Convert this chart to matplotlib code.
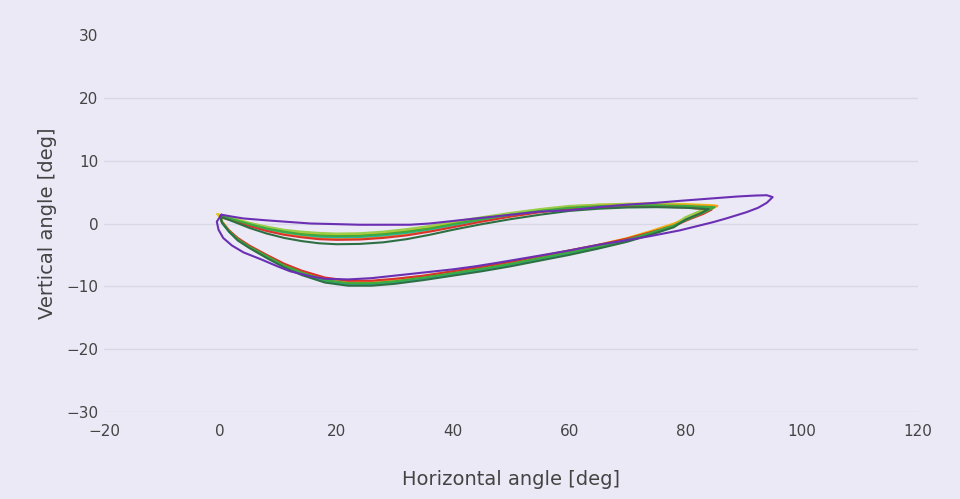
import matplotlib
matplotlib.use("Agg")
import matplotlib.pyplot as plt

# ---- data ----
# each loop: outbound (upper) branch followed by the return (lower) branch
purple_x = [0.2, 2, 4, 8, 11, 15.5, 20, 24, 28, 32.6, 36, 40, 45, 50, 55, 60, 65, 70, 75, 79, 84.7, 89, 92, 94, 95,
            94, 92.5, 90.5, 87, 84.7, 79, 74, 69, 65, 60, 55, 48, 44, 40, 35, 31, 26, 22, 18, 15.5, 12, 9.8, 7, 4, 2, 0.5, -0.3, -0.6, 0.2]
purple_y = [1.4, 1.1, 0.8, 0.5, 0.3, 0.0, -0.1, -0.2, -0.2, -0.2, 0.0, 0.4, 0.9, 1.4, 1.9, 2.1, 2.6, 3.0, 3.3, 3.6, 4.0, 4.3, 4.45, 4.5, 4.2,
            3.3, 2.5, 1.8, 0.8, 0.2, -1.1, -2.0, -2.8, -3.4, -4.3, -5.1, -6.2, -6.8, -7.3, -7.8, -8.2, -8.7, -8.9, -8.8, -8.4, -7.6, -6.8, -5.7, -4.6, -3.5, -2.3, -1.0, 0.3, 1.4]

green_x = [0, 2, 5, 8, 11, 14, 17, 20, 24, 28, 32, 36, 40, 45, 50, 55, 60, 65, 70, 75, 80, 85,
           83.5, 81, 78, 74, 70, 65, 60, 55, 50, 45, 40, 35, 30, 26, 22, 18, 14, 11, 8, 5, 3, 1.5, 0.3, 0]
green_y = [1.2, 0.7, -0.1, -0.8, -1.3, -1.7, -1.9, -2.0, -1.95, -1.7, -1.3, -0.8, -0.1, 0.7, 1.4, 2.0, 2.5, 2.75, 2.9, 2.9, 2.8, 2.6,
           1.9, 0.9, -0.3, -1.5, -2.6, -3.7, -4.6, -5.5, -6.4, -7.2, -7.9, -8.6, -9.2, -9.5, -9.5, -9.0, -7.8, -6.7, -5.2, -3.7, -2.5, -1.2, 0.2, 1.2]

darkgreen_x = [0, 2, 5, 8, 11, 14, 17, 20, 24, 28, 32, 36, 40, 45, 50, 55, 60, 65, 70, 75, 80, 84,
               82.5, 80, 78, 74, 70, 65, 60, 55, 50, 45, 40, 35, 30, 26, 22, 18, 14, 11, 8, 5, 3, 1.5, 0.3, 0]
darkgreen_y = [1.1, 0.4, -0.7, -1.6, -2.3, -2.8, -3.15, -3.3, -3.25, -3.0, -2.5, -1.8, -1.0, -0.1, 0.7, 1.4, 2.0, 2.35, 2.55, 2.6, 2.5, 2.3,
               1.6, 0.6, -0.6, -1.8, -2.9, -4.0, -5.0, -5.9, -6.8, -7.6, -8.3, -9.0, -9.6, -9.9, -9.9, -9.4, -8.2, -7.0, -5.5, -3.9, -2.7, -1.3, 0.1, 1.1]

red_x = [0, 2, 5, 8, 11, 14, 17, 20, 24, 28, 32, 36, 40, 45, 50, 55, 60, 65, 70, 75, 80, 84.5,
         83, 80.5, 78, 74, 70, 65, 60, 55, 50, 45, 40, 35, 30, 26, 22, 18, 14, 11, 8, 5, 3, 1.5, 0.3, 0]
red_y = [1.0, 0.5, -0.4, -1.2, -1.8, -2.2, -2.5, -2.6, -2.55, -2.3, -1.9, -1.3, -0.6, 0.3, 1.1, 1.8, 2.3, 2.55, 2.7, 2.7, 2.55, 2.2,
         1.5, 0.6, -0.4, -1.4, -2.4, -3.4, -4.3, -5.2, -6.1, -6.9, -7.6, -8.3, -8.8, -9.1, -9.1, -8.6, -7.5, -6.4, -5.0, -3.5, -2.3, -1.1, 0.2, 1.0]

orange_x = [0, 2, 5, 8, 11, 14, 17, 20, 24, 28, 32, 36, 40, 45, 50, 55, 60, 65, 70, 75, 80, 85.5,
            84, 81.5, 78, 74, 70, 65, 60, 55, 50, 45, 40, 35, 30, 26, 22, 18, 14, 11, 8, 5, 3, 1.5, 0.3, 0]
orange_y = [1.2, 0.6, -0.3, -1.0, -1.6, -2.0, -2.3, -2.4, -2.35, -2.1, -1.7, -1.1, -0.4, 0.5, 1.2, 1.9, 2.5, 2.8, 2.9, 2.95, 2.9, 2.8,
            2.1, 1.1, -0.1, -1.3, -2.4, -3.5, -4.4, -5.3, -6.2, -7.0, -7.7, -8.4, -9.0, -9.3, -9.3, -8.8, -7.6, -6.5, -5.1, -3.6, -2.4, -1.1, 0.3, 1.2]

yellow_x = [-0.5, 2, 5, 8, 11, 14, 17, 20, 24, 28, 32, 36, 40, 45, 50, 55, 60, 65, 70, 75, 80, 85,
            83.5, 81, 78, 74, 70, 65, 60, 55, 50, 45, 40, 35, 30, 26, 22, 18, 14, 11, 8, 5, 3, 1.5, 0.3, -0.5]
yellow_y = [1.5, 0.9, 0.1, -0.6, -1.1, -1.5, -1.7, -1.8, -1.75, -1.5, -1.1, -0.6, 0.1, 0.9, 1.6, 2.2, 2.7, 3.0, 3.15, 3.2, 3.1, 2.9,
            2.2, 1.2, 0.0, -1.2, -2.3, -3.4, -4.3, -5.2, -6.1, -6.9, -7.6, -8.3, -8.9, -9.2, -9.2, -8.7, -7.6, -6.5, -5.1, -3.6, -2.4, -1.1, 0.4, 1.5]

lightgreen_x = [0, 2, 5, 8, 11, 14, 17, 20, 24, 28, 32, 36, 40, 45, 50, 55, 60, 65, 70, 75, 80, 84,
                82.5, 80, 78, 74, 70, 65, 60, 55, 50, 45, 40, 35, 30, 26, 22, 18, 14, 11, 8, 5, 3, 1.5, 0.3, 0]
lightgreen_y = [1.3, 0.8, 0.1, -0.5, -1.0, -1.3, -1.5, -1.6, -1.55, -1.3, -0.9, -0.4, 0.3, 1.0, 1.7, 2.3, 2.8, 3.0, 3.1, 3.1, 2.95, 2.7,
                2.0, 1.0, -0.2, -1.4, -2.5, -3.6, -4.5, -5.4, -6.3, -7.1, -7.8, -8.5, -9.1, -9.4, -9.5, -9.0, -7.9, -6.7, -5.2, -3.7, -2.5, -1.2, 0.2, 1.3]

teal_x = [0, 2, 5, 8, 11, 14, 17, 20, 24, 28, 32, 36, 40, 45, 50, 55, 60, 65, 70, 75, 80, 84.5,
          83, 80.5, 78, 74, 70, 65, 60, 55, 50, 45, 40, 35, 30, 26, 22, 18, 14, 11, 8, 5, 3, 1.5, 0.3, 0]
teal_y = [1.1, 0.6, -0.2, -0.9, -1.4, -1.8, -2.1, -2.2, -2.15, -1.9, -1.5, -0.95, -0.3, 0.6, 1.3, 1.9, 2.4, 2.65, 2.8, 2.8, 2.65, 2.4,
          1.7, 0.8, -0.4, -1.7, -2.8, -3.9, -4.8, -5.7, -6.6, -7.4, -8.1, -8.8, -9.4, -9.7, -9.7, -9.2, -8.0, -6.9, -5.4, -3.8, -2.6, -1.3, 0.1, 1.1]

series = [
    (yellow_x, yellow_y, "#E8C41E"),
    (lightgreen_x, lightgreen_y, "#9ACD4C"),
    (orange_x, orange_y, "#FF9A1F"),
    (teal_x, teal_y, "#2BB3A0"),
    (red_x, red_y, "#D9342B"),
    (green_x, green_y, "#3DAA3D"),
    (darkgreen_x, darkgreen_y, "#2E7044"),
    (purple_x, purple_y, "#6B2FB3"),
]

x_ticks = [-20, 0, 20, 40, 60, 80, 100, 120]
y_ticks = [-30, -20, -10, 0, 10, 20, 30]
grid_levels = [-30, -20, -10, 0, 10, 20]

bg = "#EBE9F6"
grid_col = "#DAD8E6"
text_col = "#444444"

fig = plt.figure(figsize=(9.6, 4.99), dpi=100, facecolor=bg)
ax = fig.add_axes([104 / 960, 1 - 412 / 499, (918 - 104) / 960, (412 - 35) / 499])
ax.set_facecolor(bg)

for g in grid_levels:
    ax.axhline(g, color=grid_col, lw=1.0, zorder=0)

for xs, ys, c in series:
    ax.plot(xs, ys, color=c, lw=1.5, solid_joinstyle="round", solid_capstyle="round", zorder=2)

ax.set_xlim(-20, 120)
ax.set_ylim(-30, 30)
ax.set_xticks(x_ticks)
ax.set_yticks(y_ticks)
ax.set_xticklabels([f"\u2212{abs(v)}" if v < 0 else str(v) for v in x_ticks])
ax.set_yticklabels([f"\u2212{abs(v)}" if v < 0 else str(v) for v in y_ticks])
ax.tick_params(axis="both", length=0, labelsize=11, labelcolor=text_col)
ax.tick_params(axis="x", pad=9)
ax.tick_params(axis="y", pad=4)
for s in ax.spines.values():
    s.set_visible(False)

ax.set_xlabel("Horizontal angle [deg]", fontsize=14, color=text_col, labelpad=22)
ax.set_ylabel("Vertical angle [deg]", fontsize=14, color=text_col, labelpad=7)

fig.savefig("out.png", dpi=100, facecolor=bg)
